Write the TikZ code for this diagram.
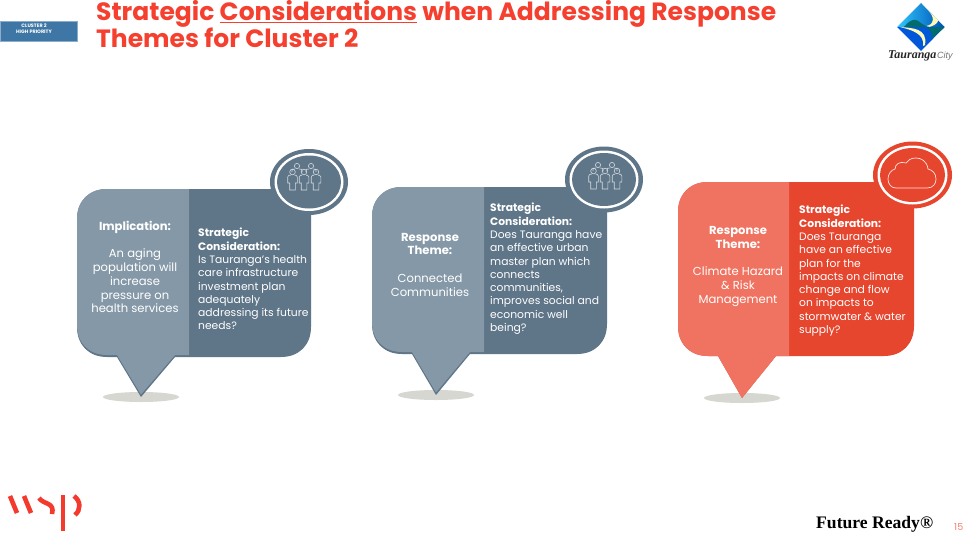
\documentclass[tikz,border=0pt]{standalone}
\usepackage{fontspec}
\setmainfont{Poppins}
\newfontfamily\serifbold{Liberation Serif}
\newfontfamily\liberasans{Liberation Sans}
\definecolor{slatelight}{HTML}{8598A7}
\definecolor{slatedark}{HTML}{5F7588}
\definecolor{redlight}{HTML}{EF7360}
\definecolor{reddark}{HTML}{E6452E}
\definecolor{titlered}{HTML}{F5402F}
\definecolor{clusterblue}{HTML}{3E77A5}
\definecolor{shadowgrey}{HTML}{D5D7D0}
\definecolor{iconline}{HTML}{D5DCE2}
\definecolor{wspred}{HTML}{F4392D}
\definecolor{pagenum}{HTML}{F77F6F}
\tikzset{
  x=1pt,y=-1pt,
  bubbletext/.style={text=white,inner sep=0pt,font=\fontsize{10.75}{13.3}\selectfont},
  lefttext/.style={bubbletext,align=center,font=\fontsize{11.6}{13.75}\selectfont},
  righttext/.style={bubbletext,align=left,anchor=north west},
  titletext/.style={text=titlered,inner sep=0pt,anchor=base west,font=\fontsize{25}{27}\selectfont\bfseries},
  iconstroke/.style={draw=iconline,line width=.6pt},
}
\newcommand{\bubbleshape}[6]{% l t r b tipx tipy
  (#1,#2+30) .. controls (#1,#2+12) and (#1+12,#2) .. (#1+30,#2)
  -- (#3,#2) -- (#3,#4-30) .. controls (#3,#4-12) and (#3-12,#4) .. (#3-30,#4)
  -- (#5+34,#4) -- (#5,#6) -- (#5-24,#4) -- (#1+30,#4)
  .. controls (#1+12,#4) and (#1,#4-12) .. (#1,#4-30) -- cycle}
% l t r b split tipx tipy light dark; \edgeoff = depth of the lower edge
\newcommand{\bubble}[9]{%
  \fill[shadowgrey] (#6,#7) ellipse [x radius=38,y radius=5];
  \fill[#9] \bubbleshape{#1}{#2}{#3}{#4}{#6}{#7};
  \begin{scope}
    \clip (#1-1,#2-1) rectangle (#5,#7+2);
    \ifnum\edgeoff=0
      \fill[#8] \bubbleshape{#1}{#2}{#3}{#4}{#6}{#7};
    \else
      \fill[#8] \bubbleshape{#1}{#2}{#3}{#4-2}{#6}{#7-2.5};
    \fi
  \end{scope}}
\newcommand{\badge}[5]{%
  \fill[#5] (#1,#2) ellipse [x radius=#3,y radius=#4];
  \fill[white] (#1,#2) ellipse [x radius=#3-4.5,y radius=#4-4];
  \fill[#5] (#1,#2) ellipse [x radius=#3-7,y radius=#4-6.5];}
\newcommand{\person}[2]{%
  \draw[iconstroke] (#1,#2) circle [radius=2.8];
  \draw[iconstroke] (#1-2,#2+3.2) -- (#1-3.6,#2+3.2) .. controls (#1-4.8,#2+3.4) .. (#1-4.8,#2+5)
    -- (#1-4.8,#2+11) -- (#1-2.8,#2+11) -- (#1-2.8,#2+18) -- (#1+2.8,#2+18) -- (#1+2.8,#2+11) -- (#1+4.8,#2+11)
    -- (#1+4.8,#2+5) .. controls (#1+4.8,#2+3.4) .. (#1+3.6,#2+3.2) -- (#1+2,#2+3.2);}
\newcommand{\backperson}[2]{%
  \draw[iconstroke] (#1,#2) circle [radius=2.6];
  \draw[iconstroke] (#1-5,#2+6) -- (#1-5,#2+4.5) .. controls (#1-5,#2+3.2) .. (#1-2,#2+3)
    (#1+2,#2+3) .. controls (#1+5,#2+3.2) .. (#1+5,#2+4.5) -- (#1+5,#2+6);}
\newcommand{\people}[2]{%
  \backperson{#1-6.5}{#2-6}\backperson{#1+7.5}{#2-6}
  \person{#1-11}{#2}\person{#1+.5}{#2}\person{#1+12.5}{#2}}
\begin{document}
\begin{tikzpicture}
\useasboundingbox (0,0) rectangle (973,532);
\fill[white] (0,0) rectangle (973,532);

% cluster tag
\node[fill=clusterblue,draw=clusterblue!60!white,line width=.4pt,minimum width=77pt,minimum height=20pt,inner sep=0pt,anchor=north west] (tag) at (0,21) {};
\node[text=white,align=center,inner sep=0pt,font=\fontsize{4.9}{6}\selectfont\bfseries] (taglabel) at (34,29) {CLUSTER 2\\HIGH PRIORITY};

% title
\node[titletext] (title1) at (96,21) {Strategic \underline{Considerations} when Addressing Response};
\node[titletext] (title2) at (96,48) {Themes for Cluster 2};

% bubble 1
\def\edgeoff{1}
\bubble{77}{189}{311}{357}{189}{141}{397}{slatelight}{slatedark}
\badge{309}{182}{39}{33}{slatedark}
\people{303.5}{172}
\node[lefttext] (b1l) at (135,267) {\textbf{Implication:}\\ \\An aging\\population will\\increase\\pressure on\\health services};
\node[righttext] (b1r) at (198,228) {\textbf{Strategic}\\\textbf{Consideration:}\\Is Tauranga’s health\\care infrastructure\\investment plan\\adequately\\addressing its future\\needs?};

% bubble 2
\bubble{372}{187}{607}{354}{484}{436}{395}{slatelight}{slatedark}
\badge{604}{179.5}{39}{33}{slatedark}
\people{604.5}{171}
\node[lefttext] (b2l) at (430,264.5) {\textbf{Response}\\\textbf{Theme:}\\ \\Connected\\Communities};
\node[righttext] (b2r) at (490,203) {\textbf{Strategic}\\\textbf{Consideration:}\\Does Tauranga have\\an effective urban\\master plan which\\connects\\communities,\\improves social and\\economic well\\being?};

% bubble 3
\def\edgeoff{0}
\bubble{678}{182}{914}{356}{789}{742}{398}{redlight}{reddark}
\badge{912.5}{175}{39.5}{33.5}{reddark}
\draw[draw=white!85!reddark,line width=.7pt] (896,188) -- (927,188)
  .. controls (933,188) and (936,184) .. (936,179)
  .. controls (936,173) and (932,170) .. (928,169)
  .. controls (927,161) and (921,158) .. (916,158)
  .. controls (911,158) and (908,160) .. (906,163)
  .. controls (900,161) and (895,164) .. (895,169)
  .. controls (891,170) and (888,174) .. (888,179)
  .. controls (888,184) and (891,188) .. (896,188) -- cycle;
\node[lefttext] (b3l) at (738,266.5) {\textbf{Response}\\\textbf{Theme:}\\ \\Climate Hazard\\\& Risk\\Management};
\node[righttext] (b3r) at (799,205) {\textbf{Strategic}\\\textbf{Consideration:}\\Does Tauranga\\have an effective\\plan for the\\impacts on climate\\change and flow\\on impacts to\\stormwater \& water\\supply?};

% Tauranga logo
\begin{scope}
  \clip (921,3) -- (944.5,27) -- (921,51) -- (897,27) -- cycle;
  \shade[left color=white!45!blue!40!cyan,right color=blue!55!cyan!70!black] (897,3) rectangle (945,27);
  \fill[white!70!yellow] (923,5) .. controls (930,12) and (936,18) .. (931,24) .. controls (926,28) and (915,26) .. (905,27) -- (918,29) .. controls (930,28) and (944,24) .. (936,14) .. controls (932,9) and (928,6) .. (923,5) -- cycle;
  \fill[teal!85!black] (904,27) .. controls (908,22) and (912,19) .. (916,20) .. controls (920,21) and (922,26) .. (930,27) -- (945,27) -- (945,30) -- cycle;
  \fill[blue!60!cyan!85!black] (897,27) -- (945,27) -- (945,52) -- (897,52) -- cycle;
  \fill[teal!85!black] (926,28) -- (945,27) -- (931,39) .. controls (933,33) and (931,30) .. (926,28) -- cycle;
  \fill[white!70!yellow] (900,27) .. controls (912,28) and (928,28) .. (925,45) -- (923,46) .. controls (925,34) and (912,30) .. (900,27) -- cycle;
\end{scope}
\node[inner sep=0pt,anchor=base west,font=\serifbold\fontsize{12}{12}\selectfont\bfseries\itshape,text=black!85] (logoname) at (888,59) {Tauranga};
\node[inner sep=0pt,anchor=base west,font=\liberasans\fontsize{9}{12}\selectfont\itshape,text=black!55] (logocity) at (937,59) {City};

% WSP logo
\begin{scope}[wspred,line width=4.6pt]
  \draw (10,496) -- (17,513);
  \draw (24,496) -- (31,513);
  \draw (39,498) .. controls (44,505) and (55,502) .. (52,514);
  \draw[line width=3.4pt] (63,495) -- (63,531);
  \draw (74,496) .. controls (81,501) and (81,510) .. (75,515);
\end{scope}

% footer
\node[inner sep=0pt,anchor=base west,font=\serifbold\fontsize{17.6}{18}\selectfont\bfseries,text=black] (ready) at (816,528) {Future Ready®};
\node[inner sep=0pt,anchor=base west,font=\fontsize{9.5}{11}\selectfont,text=pagenum] (page) at (954,530) {15};
\end{tikzpicture}
\end{document}
